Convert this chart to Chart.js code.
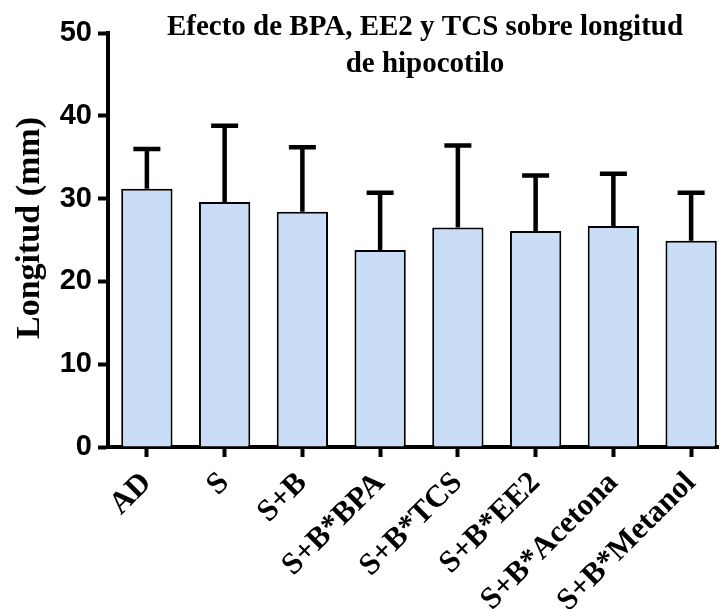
<!DOCTYPE html>
<html lang="es">
<head>
    <meta charset="UTF-8">
    <title>Longitud de hipocotilo</title>
    <script src="https://cdn.jsdelivr.net/npm/chart.js"></script>
    <style>
        html, body { margin: 0; background: #fff; overflow: hidden; }
        /* el lienzo es algo más ancho que la ventana: la última barra queda cortada en el borde */
        #grafica { display: block; }
    </style>
</head>
<body>
    <canvas id="grafica" width="730" height="609"></canvas>

    <script>
        // datos: media y desviación estándar de la longitud (mm) por tratamiento
        const tratamientos = ["AD", "S", "S+B", "S+B*BPA", "S+B*TCS", "S+B*EE2", "S+B*Acetona", "S+B*Metanol"];
        const longitudMedia = [31.2, 29.6, 28.4, 23.8, 26.5, 26.1, 26.7, 24.9];
        const desviacion = [4.8, 9.2, 7.8, 6.9, 9.9, 6.7, 6.3, 5.8];
        const marcasY = [0, 10, 20, 30, 40, 50];
        const titulo = ["Efecto de BPA, EE2 y TCS sobre longitud", "de hipocotilo"];
        const tituloEjeY = "Longitud (mm)";

        const serif = "'Liberation Serif', 'Times New Roman', serif";
        const sans = "'Liberation Sans', Arial, sans-serif";

        // barras de error solo hacia arriba, con su tope
        const barrasError = {
            id: "barrasError",
            afterDatasetsDraw(chart) {
                const ctx = chart.ctx;
                const y = chart.scales.y;
                const meta = chart.getDatasetMeta(0);
                ctx.save();
                ctx.strokeStyle = "#000";
                ctx.lineWidth = 4.5;
                meta.data.forEach((barra, i) => {
                    const arriba = y.getPixelForValue(longitudMedia[i] + desviacion[i]);
                    ctx.beginPath();
                    ctx.moveTo(barra.x, barra.y);
                    ctx.lineTo(barra.x, arriba);
                    ctx.moveTo(barra.x - 13.5, arriba);
                    ctx.lineTo(barra.x + 13.5, arriba);
                    ctx.stroke();
                });
                ctx.restore();
            }
        };

        // título en dos líneas y rótulo del eje Y
        const textos = {
            id: "textos",
            afterDraw(chart) {
                const ctx = chart.ctx;
                const area = chart.chartArea;
                ctx.save();
                ctx.fillStyle = "#000";
                ctx.font = "bold 29px " + serif;
                ctx.textAlign = "center";
                ctx.textBaseline = "alphabetic";
                const cx = (area.left + area.right) / 2 + 6;
                ctx.fillText(titulo[0], cx, 35);
                ctx.fillText(titulo[1], cx, 72);

                ctx.font = "bold 34px " + serif;
                ctx.translate(39, (area.top + area.bottom) / 2 - 12);
                ctx.rotate(-Math.PI / 2);
                ctx.fillText(tituloEjeY, 0, 0);
                ctx.restore();
            }
        };

        new Chart(document.getElementById("grafica"), {
            type: "bar",
            data: {
                labels: tratamientos,
                datasets: [{
                    label: "Longitud",
                    data: longitudMedia,
                    backgroundColor: "#C9DDF6",
                    borderColor: "#000",
                    borderWidth: 2,
                    categoryPercentage: 1,
                    barPercentage: 0.66
                }]
            },
            options: {
                responsive: false,
                animation: false,
                devicePixelRatio: 1,
                layout: {
                    padding: { top: 33, right: 0, left: 0, bottom: 0 }
                },
                plugins: {
                    legend: { display: false },
                    tooltip: { enabled: false }
                },
                scales: {
                    x: {
                        afterFit: s => { s.height = 162; },
                        border: { color: "#000", width: 4 },
                        grid: {
                            offset: false,
                            drawOnChartArea: false,
                            tickLength: 10,
                            tickWidth: 4,
                            tickColor: "#000"
                        },
                        ticks: {
                            color: "#000",
                            font: { family: serif, size: 31, weight: "bold" },
                            minRotation: 45,
                            maxRotation: 45,
                            autoSkip: false,
                            padding: 8
                        }
                    },
                    y: {
                        min: 0,
                        max: 50,
                        afterFit: s => { s.width = 108; },
                        afterBuildTicks: s => { s.ticks = marcasY.map(v => ({ value: v })); },
                        border: { color: "#000", width: 4 },
                        grid: {
                            drawOnChartArea: false,
                            tickLength: 10,
                            tickWidth: 4,
                            tickColor: "#000"
                        },
                        ticks: {
                            color: "#000",
                            font: { family: sans, size: 29, weight: "bold" },
                            padding: 6
                        }
                    }
                }
            },
            plugins: [barrasError, textos]
        });
    </script>
</body>

</html>
